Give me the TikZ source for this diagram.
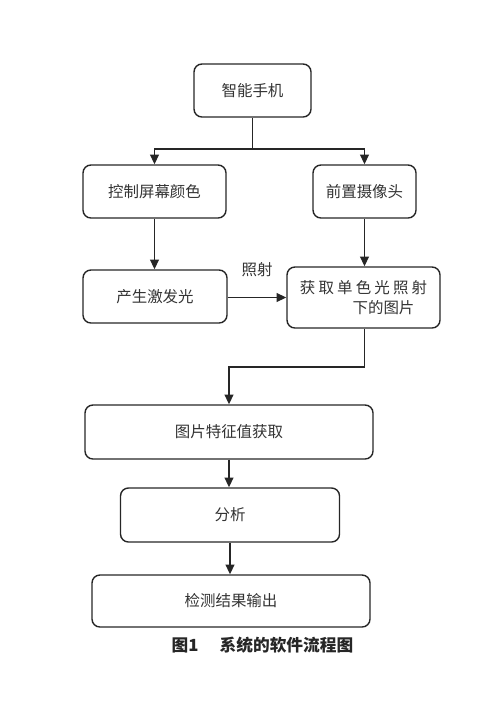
\documentclass[tikz,border=0pt]{standalone}
\usepackage{fontspec}
\setmainfont{Noto Sans CJK SC}
\usetikzlibrary{arrows.meta}

\begin{document}
\begin{tikzpicture}[>={Triangle[length=5.5pt,width=5pt]},
    box/.style={draw=black!85,line width=0.8pt,rounded corners=4.5pt,minimum height=1.06cm,
                text=black!80,font=\fontsize{8.8}{12}\selectfont},
    flow/.style={->,draw=black!85,line width=0.8pt}]
    \useasboundingbox (0,0) rectangle (10,-14.14);

    % Boxes
    \node[box,minimum width=2.34cm] (phone) at (5.05,-1.81) {智能手机};
    \node[box,minimum width=2.86cm] (screen) at (3.09,-3.83) {控制屏幕颜色};
    \node[box,minimum width=2.06cm] (camera) at (7.29,-3.83) {前置摄像头};
    \node[box,minimum width=2.88cm] (excite) at (3.10,-5.93) {产生激发光};
    \node[box,minimum width=3.06cm,minimum height=1.22cm,align=left] (capture) at (7.27,-5.95)
        {获\hspace{1.8pt}取\hspace{1.8pt}单\hspace{1.8pt}色\hspace{1.8pt}光\hspace{1.8pt}照\hspace{1.8pt}射\\[-1pt]\hspace*{30pt}下的图片};
    \node[box,minimum width=5.76cm,minimum height=1.08cm] (feature) at (4.58,-8.64) {图片特征值获取};
    \node[box,minimum width=4.38cm,minimum height=1.08cm] (analyse) at (4.60,-10.30) {分析};
    \node[box,minimum width=5.56cm,minimum height=1.04cm] (result) at (4.62,-12.02) {检测结果输出};

    % Split below the phone
    \coordinate (split) at (5.05,-2.98);
    \draw[line width=0.8pt,black!85] (phone.south) -- (split);
    \draw[flow] (split) -| (screen.north);
    \draw[flow] (split) -| (camera.north);

    % Down the two branches
    \draw[flow] (screen.south) -- (screen.south |- excite.north);
    \draw[flow] (camera.south) -- (camera.south |- capture.north);
    \draw[flow] (excite.east |- 0,-5.95) -- node[midway,above=8pt,text=black!80,font=\fontsize{8.8}{12}\selectfont] (shine) {照射} (capture.west);

    % Back to the middle column
    \coordinate (bend) at (camera.south |- 0,-7.34);
    \draw[flow] (camera.south |- capture.south) -- (bend) -| (feature.north);
    \draw[flow] (feature.south) -- (feature.south |- analyse.north);
    \draw[flow] (analyse.south) -- (analyse.south |- result.north);

    % Caption
    \node[font=\fontsize{9.5}{12}\selectfont\bfseries,text=black!85] (caption) at (5.25,-12.9) {图1\hspace{12pt}系统的软件流程图};
\end{tikzpicture}
\end{document}
